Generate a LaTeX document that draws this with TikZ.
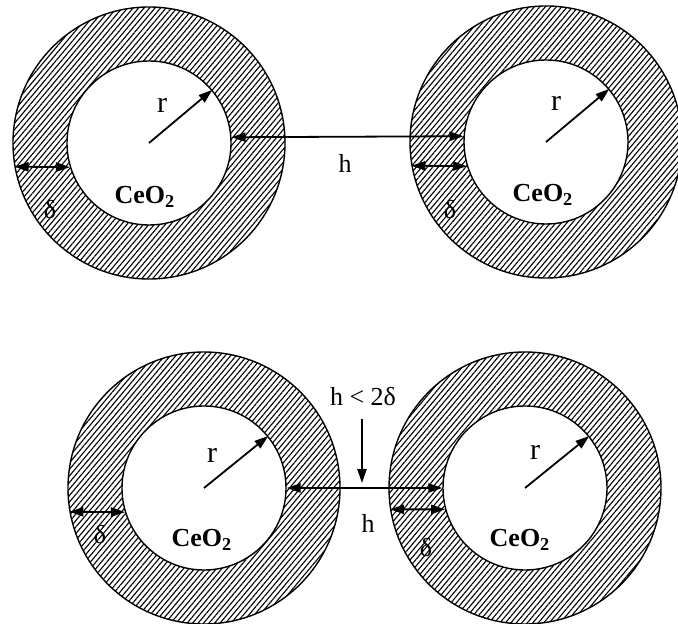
\documentclass[tikz,border=0pt]{standalone}
\usepackage{fontspec}
\setmainfont{Liberation Serif}
\usetikzlibrary{arrows.meta,patterns.meta}

\tikzstyle{shell} = [circle, draw, line width=0.7pt, minimum size=136pt, inner sep=0pt, pattern={Lines[angle=50,distance=2.1pt,line width=0.55pt]}]
\tikzstyle{core} = [circle, draw, line width=0.7pt, minimum size=82pt, inner sep=0pt, fill=white]
\tikzstyle{arr} = [line width=0.9pt, -{Triangle[length=7pt,width=4.6pt]}]
\tikzstyle{darr} = [line width=0.9pt, {Triangle[length=7pt,width=4.6pt]}-{Triangle[length=7pt,width=4.6pt]}]
\tikzstyle{lbl} = [inner sep=0pt, font=\fontsize{13}{15}\selectfont]
\tikzstyle{rlbl} = [inner sep=0pt, font=\fontsize{15}{17}\selectfont]
\tikzstyle{oxide} = [inner sep=0pt, font=\fontsize{13}{15}\selectfont\bfseries]

\begin{document}
\begin{tikzpicture}[x=0.5pt, y=-0.5pt]
\useasboundingbox (0,0) rectangle (678,624);

\node[shell] (sA) at (149,143) {};
\node[shell] (sB) at (546,142) {};
\node[shell] (sC) at (204,488) {};
\node[shell] (sD) at (525,488) {};
\node[core] (cA) at (149,143) {};
\node[core] (cB) at (546,142) {};
\node[core] (cC) at (204,488) {};
\node[core] (cD) at (525,488) {};

\draw[arr] (cA.center) -- (cA.40);
\draw[arr] (cB.center) -- (cB.40);
\draw[arr] (cC.center) -- (cC.39);
\draw[arr] (cD.center) -- (cD.39);

\draw[darr] (sA.190) -- (cA.197);
\draw[darr] (sB.190) -- (cB.197);
\draw[darr] (sC.190) -- (cC.197);
\draw[darr] (sD.189) -- (cD.195);

\draw[darr] (cA.4) -- (cB.176);
\draw[darr] (cC.east) -- (cD.west);

\node[rlbl] (rA) at (162,105) {r};
\node[rlbl] (rB) at (556,103) {r};
\node[rlbl] (rC) at (212,455) {r};
\node[rlbl] (rD) at (535,452) {r};

\node[lbl] (dA) at (50,210) {δ};
\node[lbl] (dB) at (450,210) {δ};
\node[lbl] (dC) at (100,535) {δ};
\node[lbl] (dD) at (426,548) {δ};

\node[oxide] (oxA) at (145,197) {CeO\textsubscript{2}};
\node[oxide] (oxB) at (543,195) {CeO\textsubscript{2}};
\node[oxide] (oxC) at (202,540) {CeO\textsubscript{2}};
\node[oxide] (oxD) at (520,540) {CeO\textsubscript{2}};

\node[lbl] (hTop) at (345,163) {h};
\node[lbl] (hBot) at (368,523) {h};
\node[lbl] (cond) at (363,397) {h < 2δ};
\coordinate (tip) at (362,483);
\draw[arr, shorten <=6pt] (cond.south -| tip) -- (tip);
\end{tikzpicture}
\end{document}
